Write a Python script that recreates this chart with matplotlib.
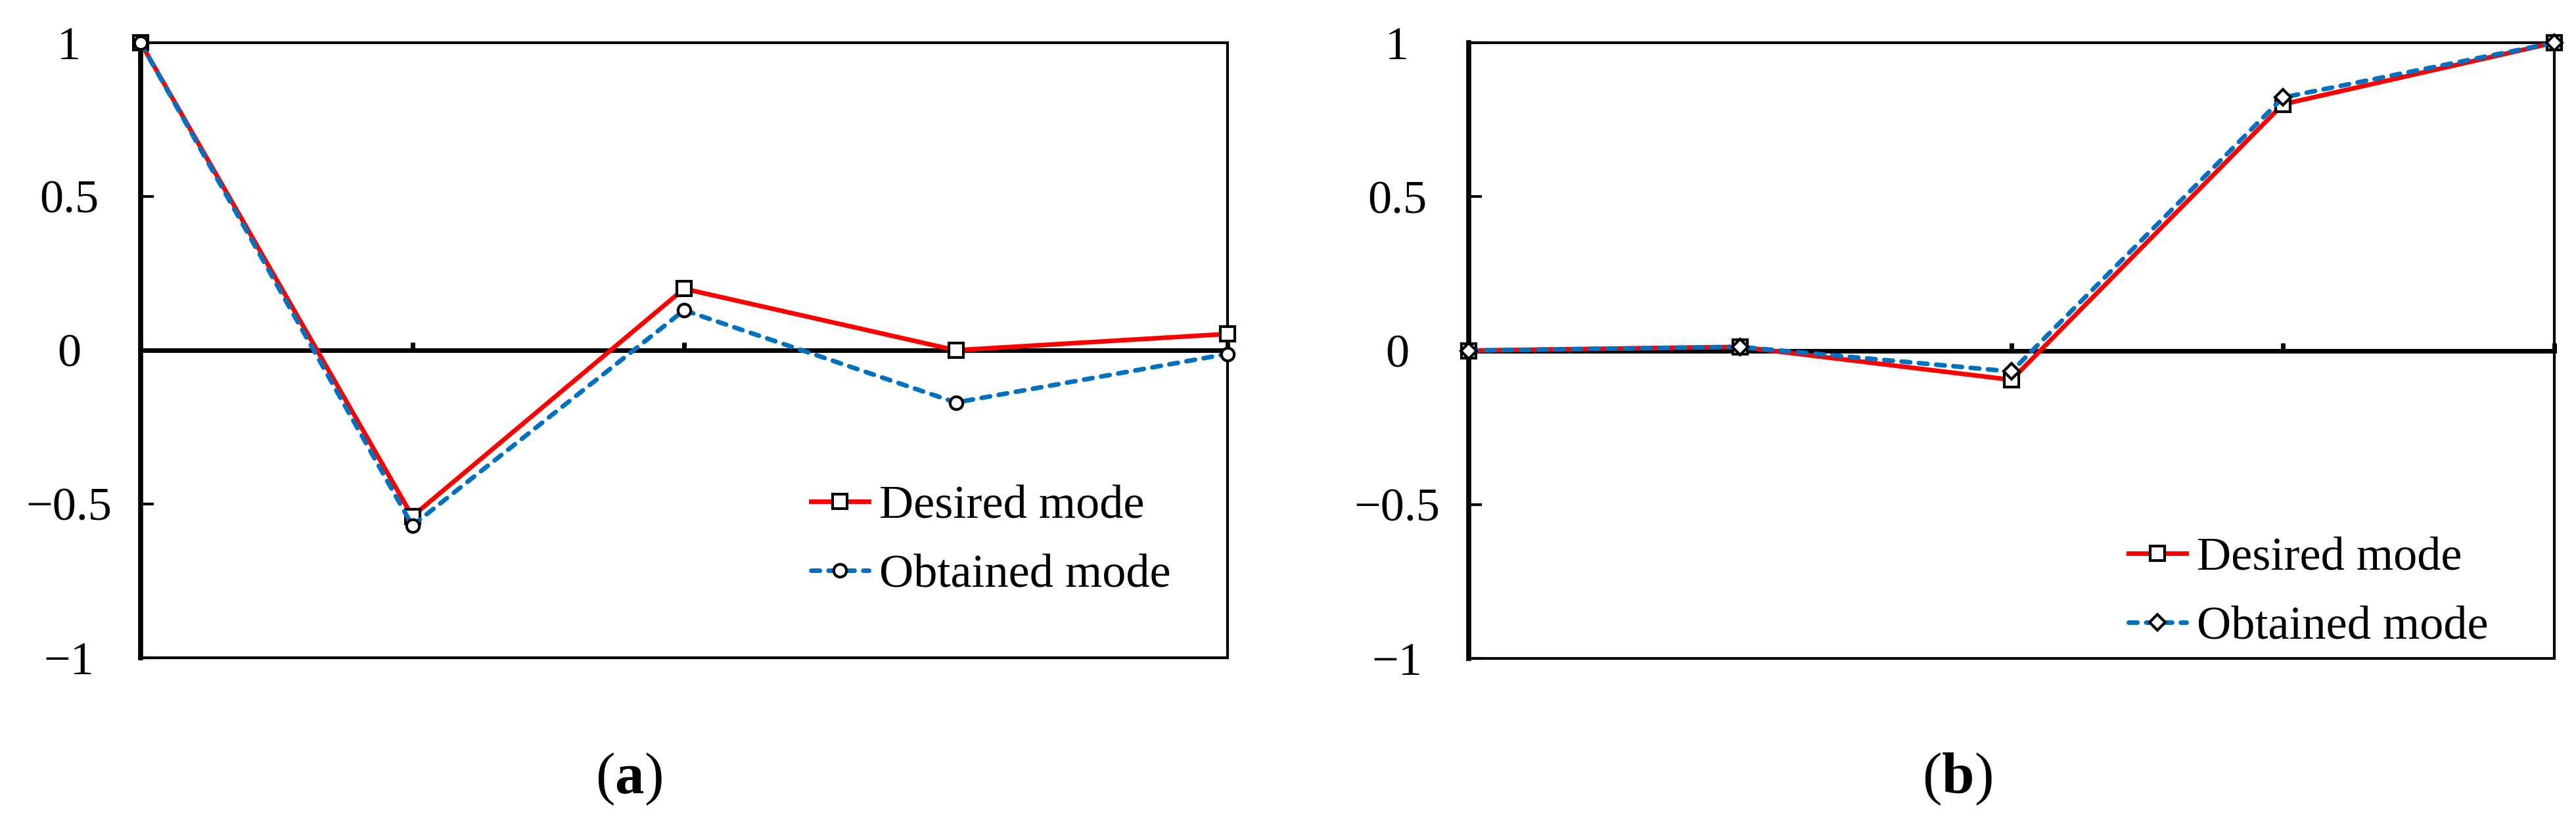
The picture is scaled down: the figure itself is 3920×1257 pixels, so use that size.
import matplotlib
matplotlib.use("Agg")
import matplotlib.pyplot as plt
from matplotlib.patches import Rectangle

plt.rcParams['font.family'] = ['Liberation Serif', 'DejaVu Serif']
plt.rcParams['mathtext.fontset'] = 'custom'
plt.rcParams['mathtext.rm'] = 'Liberation Serif'
plt.rcParams['mathtext.bf'] = 'Liberation Serif:bold'
plt.rcParams['axes.unicode_minus'] = True

# ---- data ----
points = [1, 2, 3, 4, 5]
a_desired = [1.0, -0.54, 0.20, 0.0, 0.053]
a_obtained = [1.0, -0.57, 0.13, -0.17, -0.012]
b_desired = [0.0, 0.012, -0.095, 0.80, 1.0]
b_obtained = [0.0, 0.012, -0.068, 0.822, 1.0]
y_ticks = [-1, -0.5, 0, 0.5, 1]
y_tick_labels = ['\u22121', '\u22120.5', '0', '0.5', '1']
series_labels = ['Desired mode', 'Obtained mode']
panel_labels = [r'($\mathbf{a}$)', r'($\mathbf{b}$)']

W, H = 3920, 1257
fig = plt.figure(figsize=(W / 100, H / 100), dpi=100)

RED = '#FF0000'
BLUE = '#0070C0'
FS = 52


def make_axes(left_px, right_px, top_px, bottom_px):
    return fig.add_axes([left_px / W, 1 - bottom_px / H,
                         (right_px - left_px) / W, (bottom_px - top_px) / H])


def style(ax):
    ax.set_xlim(points[0], points[-1])
    ax.set_ylim(-1, 1)
    ax.set_xticks(points)
    ax.set_yticks(y_ticks)
    ax.set_yticklabels(y_tick_labels)
    ax.spines['bottom'].set_position(('data', 0))
    ax.spines['bottom'].set_linewidth(5)
    ax.spines['left'].set_linewidth(5.5)
    ax.spines['top'].set_visible(False)
    ax.spines['right'].set_visible(False)
    ax.add_patch(Rectangle((0, 0), 1, 1, transform=ax.transAxes, fill=False,
                           lw=3, edgecolor='black', clip_on=False, zorder=2.4))
    ax.tick_params(axis='x', direction='in', length=8.5, width=5,
                   labelbottom=False)
    ax.tick_params(axis='y', direction='in', length=14.5, width=3,
                   pad=78.5, labelsize=FS)
    for lab in ax.get_yticklabels():
        lab.set_horizontalalignment('center')


def draw(ax, desired, obtained, omarker, oms):
    ax.plot(points, desired, color=RED, lw=5, marker='s', ms=15.5,
            mfc='white', mec='black', mew=3, clip_on=False, zorder=3,
            label=series_labels[0])
    ax.plot(points, obtained, color=BLUE, lw=5, ls=(0, (1.9, 1.9)),
            dash_capstyle='round', marker=omarker, ms=oms,
            mfc='white', mec='black', mew=3, clip_on=False, zorder=4,
            label=series_labels[1])


def add_legend(ax, x_px, yc_px):
    ax.legend(loc='center left', bbox_to_anchor=(x_px / W, 1 - yc_px / H),
              bbox_transform=fig.transFigure, frameon=False, fontsize=FS,
              numpoints=1, handlelength=1.22, handletextpad=0.22,
              borderpad=0, borderaxespad=0, labelspacing=0.55)


ax_a = make_axes(214, 1868, 65, 1001)
style(ax_a)
draw(ax_a, a_desired, a_obtained, 'o', 14)
add_legend(ax_a, 1234, 823)

ax_b = make_axes(2235, 3887, 65, 1002)
style(ax_b)
draw(ax_b, b_desired, b_obtained, 'D', 12)
add_legend(ax_b, 3239, 902)

fig.text(957 / W, 1 - 1186 / H, panel_labels[0], ha='center', va='center',
         fontsize=64)
fig.text(2978 / W, 1 - 1186 / H, panel_labels[1], ha='center', va='center',
         fontsize=64)

fig.savefig('out.png', dpi=100, facecolor='white')
